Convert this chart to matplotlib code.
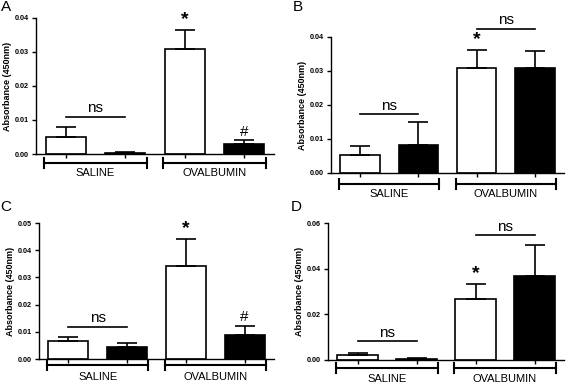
import matplotlib
matplotlib.use("Agg")
import matplotlib.pyplot as plt
import matplotlib.transforms as mtransforms

plt.rcParams['font.family'] = ['Liberation Sans', 'DejaVu Sans']

groups = ["SALINE", "OVALBUMIN"]
fills = ["white", "black", "white", "black"]

a_means = [0.0051, 0.0003, 0.0310, 0.0028]
a_err = [0.0028, 0.0004, 0.0055, 0.0013]
b_means = [0.0052, 0.0082, 0.0310, 0.0310]
b_err = [0.0026, 0.0068, 0.0052, 0.0050]
c_means = [0.0065, 0.0045, 0.0343, 0.0087]
c_err = [0.0015, 0.0013, 0.0099, 0.0035]
d_means = [0.0020, 0.0005, 0.0266, 0.0367]
d_err = [0.0010, 0.0005, 0.0069, 0.0138]

W, H = 567, 384
fig = plt.figure(figsize=(W / 100, H / 100), dpi=100)


def px_axes(l, t, r, b):
    return fig.add_axes([l / W, 1 - b / H, (r - l) / W, (b - t) / H])


def panel(ax, letter, means, errs, ymax, yticks, ns_lines, marks, brk_off, lab_off, letter_xy):
    x = list(range(4))
    ax.bar(x, means, width=0.68, color=fills, edgecolor="black", linewidth=1.2, zorder=2)
    ax.errorbar(x, means, yerr=[[0] * 4, errs], fmt="none", ecolor="black",
                elinewidth=1.2, capsize=7, capthick=1.2, zorder=3)
    ax.set_xlim(-0.5, 3.5)
    ax.set_ylim(0, ymax)
    ax.set_yticks(yticks)
    ax.set_yticklabels(["%.2f" % v for v in yticks], fontsize=5.2, fontweight="bold")
    ax.set_xticks(x)
    ax.set_xticklabels([])
    ax.tick_params(axis="both", direction="out", length=3, width=1, pad=2)
    for s in ["top", "right"]:
        ax.spines[s].set_visible(False)
    for s in ["left", "bottom"]:
        ax.spines[s].set_linewidth(1)
    ax.set_ylabel("Absorbance (450nm)", fontsize=6.5, fontweight="bold", labelpad=2)

    for x0, x1, y in ns_lines:
        ax.plot([x0, x1], [y, y], color="black", lw=1.2, clip_on=False)
        ax.text((x0 + x1) / 2, y + ymax * 0.012, "ns", ha="center", va="bottom",
                fontsize=11, clip_on=False)
    for i, sym in marks:
        top = means[i] + errs[i]
        ax.text(i, top + ymax * 0.01, sym, ha="center", va="bottom",
                fontsize=14 if sym == "*" else 11, fontweight="bold" if sym == "*" else "normal",
                clip_on=False)

    # group brackets below the axis
    h_ax = ax.get_position().height * H
    trans = mtransforms.blended_transform_factory(ax.transData, ax.transAxes)
    yb = -brk_off / h_ax
    yl = -lab_off / h_ax
    for g, name in enumerate(groups):
        c = 0.5 + 2 * g
        x0, x1 = c - 0.86, c + 0.86
        ax.plot([x0, x1], [yb, yb], color="black", lw=1.5, transform=trans, clip_on=False)
        for xe in (x0, x1):
            ax.plot([xe, xe], [yb - 0.035, yb + 0.035], color="black", lw=1.5,
                    transform=trans, clip_on=False)
        ax.text(c, yl, name, ha="center", va="center", fontsize=8,
                transform=trans)

    fig.text(letter_xy[0] / W, 1 - letter_xy[1] / H, letter, fontsize=11,
             ha="center", va="center")


axA = px_axes(36, 18, 274, 154)
panel(axA, "A", a_means, a_err, 0.04, [0.00, 0.01, 0.02, 0.03, 0.04],
      [(0, 1, 0.011)], [(2, "*"), (3, "#")], 9, 19, (6, 7))

axB = px_axes(331, 37, 564, 173)
panel(axB, "B", b_means, b_err, 0.04, [0.00, 0.01, 0.02, 0.03, 0.04],
      [(0, 1, 0.0173), (2, 3, 0.0424)], [(2, "*")], 11, 21, (298, 7))

axC = px_axes(39, 223, 274, 359)
panel(axC, "C", c_means, c_err, 0.05, [0.00, 0.01, 0.02, 0.03, 0.04, 0.05],
      [(0, 1, 0.0118)], [(2, "*"), (3, "#")], 6, 18, (6, 207))

axD = px_axes(328, 223, 564, 360)
panel(axD, "D", d_means, d_err, 0.06, [0.00, 0.02, 0.04, 0.06],
      [(0, 1, 0.0082), (2, 3, 0.0546)], [(2, "*")], 8, 19, (296, 207))

fig.savefig("out.png", dpi=100)
